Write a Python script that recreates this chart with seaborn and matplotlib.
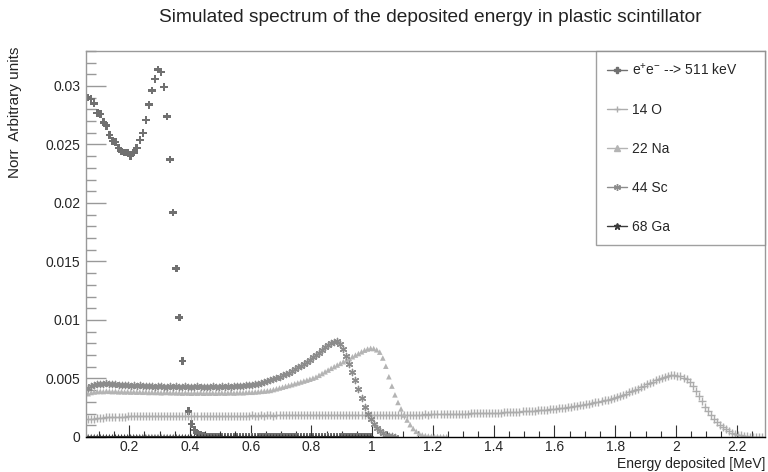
import numpy as np
import pandas as pd
import seaborn as sns
import matplotlib
matplotlib.use('Agg')
import matplotlib.pyplot as plt
from matplotlib.lines import Line2D
from matplotlib.ticker import MultipleLocator, FuncFormatter

# histogram bins: width 0.01 MeV, first bin centre 0.065 MeV
bin_start = 0.065
bin_width = 0.01

# bin contents, in units of 1e-3
ee511 = [29.0, 28.9, 28.5, 27.7, 27.6, 26.9, 26.6, 25.8, 25.3, 25.2,
         24.7, 24.4, 24.3, 24.3, 24.0, 24.3, 24.7, 25.4, 26.0, 27.1,
         28.4, 29.6, 30.6, 31.4, 31.2, 29.9, 27.4, 23.7, 19.2, 14.4,
         10.2, 6.5, np.nan, 2.2, 1.1, 0.6, 0.3, 0.2, 0.1, 0.05,
         0.0, 0.0, 0.0, 0.0, 0.0, 0.0, 0.0, 0.0, 0.0, 0.0,
         0.0, 0.0, 0.0, 0.0, 0.0, 0.0, 0.0, 0.0, 0.0, 0.0,
         0.0, 0.0, 0.0, 0.0, 0.0, 0.0, 0.0, 0.0, 0.0, 0.0,
         0.0, 0.0, 0.0, 0.0, 0.0, 0.0, 0.0, 0.0, 0.0, 0.0,
         0.0, 0.0, 0.0, 0.0, 0.0, 0.0, 0.0, 0.0, 0.0, 0.0,
         0.0, 0.0, 0.0, 0.0]

o14 = [1.50, 1.55, 1.56, 1.60, 1.63, 1.66, 1.68, 1.70, 1.71, 1.72,
       1.73, 1.74, 1.75, 1.76, 1.76, 1.77, 1.77, 1.78, 1.78, 1.79,
       1.78, 1.79, 1.79, 1.80, 1.79, 1.80, 1.80, 1.81, 1.80, 1.81,
       1.81, 1.80, 1.81, 1.82, 1.81, 1.82, 1.81, 1.82, 1.82, 1.81,
       1.82, 1.82, 1.83, 1.82, 1.82, 1.83, 1.82, 1.83, 1.83, 1.82,
       1.83, 1.83, 1.82, 1.83, 1.84, 1.83, 1.83, 1.84, 1.83, 1.84,
       1.84, 1.83, 1.84, 1.84, 1.85, 1.84, 1.84, 1.85, 1.84, 1.85,
       1.85, 1.85, 1.84, 1.85, 1.86, 1.85, 1.85, 1.86, 1.85, 1.86,
       1.86, 1.86, 1.87, 1.86, 1.87, 1.86, 1.87, 1.87, 1.86, 1.87,
       1.87, 1.88, 1.87, 1.88, 1.88, 1.87, 1.88, 1.89, 1.88, 1.89,
       1.89, 1.90, 1.89, 1.90, 1.90, 1.91, 1.90, 1.91, 1.91, 1.92,
       1.92, 1.93, 1.92, 1.93, 1.94, 1.94, 1.95, 1.95, 1.96, 1.96,
       1.97, 1.97, 1.98, 1.99, 1.99, 2.00, 2.01, 2.01, 2.02, 2.03,
       2.04, 2.05, 2.05, 2.06, 2.07, 2.08, 2.09, 2.10, 2.11, 2.12,
       2.13, 2.15, 2.16, 2.18, 2.19, 2.21, 2.23, 2.25, 2.27, 2.29,
       2.31, 2.34, 2.36, 2.39, 2.42, 2.45, 2.48, 2.51, 2.55, 2.58,
       2.62, 2.66, 2.70, 2.75, 2.79, 2.84, 2.89, 2.95, 3.00, 3.06,
       3.13, 3.20, 3.27, 3.35, 3.43, 3.52, 3.61, 3.71, 3.81, 3.92,
       4.03, 4.14, 4.26, 4.38, 4.50, 4.62, 4.74, 4.86, 4.97, 5.07,
       5.15, 5.22, 5.26, 5.27, 5.24, 5.18, 5.08, 4.93, 4.70, 4.35,
       3.95, 3.50, 3.05, 2.60, 2.20, 1.85, 1.52, 1.25, 1.02, 0.83,
       0.67, 0.50, 0.37, 0.27, 0.19, 0.13, 0.09, 0.06, 0.04, 0.03,
       0.02, 0.01, 0.01]

na22 = [3.70, 3.80, 3.85, 3.88, 3.90, 3.88, 3.92, 3.90, 3.88, 3.90,
        3.86, 3.88, 3.85, 3.87, 3.84, 3.86, 3.83, 3.85, 3.82, 3.84,
        3.80, 3.83, 3.80, 3.82, 3.78, 3.80, 3.82, 3.78, 3.80, 3.77,
        3.78, 3.75, 3.78, 3.76, 3.74, 3.77, 3.75, 3.78, 3.74, 3.76,
        3.75, 3.77, 3.74, 3.76, 3.78, 3.75, 3.77, 3.79, 3.76, 3.78,
        3.80, 3.78, 3.81, 3.83, 3.82, 3.85, 3.87, 3.90, 3.92, 3.95,
        3.98, 4.05, 4.12, 4.19, 4.26, 4.33, 4.40, 4.47, 4.55, 4.62,
        4.70, 4.78, 4.86, 4.94, 5.03, 5.12, 5.27, 5.42, 5.57, 5.72,
        5.87, 6.01, 6.15, 6.29, 6.43, 6.57, 6.71, 6.86, 7.00, 7.13,
        7.28, 7.42, 7.52, 7.58, 7.56, 7.45, 7.25, 6.75, 6.05, 5.15,
        4.35, 3.60, 2.95, 2.40, 1.88, 1.45, 1.05, 0.72, 0.48, 0.30,
        0.18, 0.12, 0.08, 0.06, 0.05, 0.04, 0.03, 0.03, 0.02]

sc44 = [4.20, 4.35, 4.45, 4.50, 4.55, 4.50, 4.58, 4.52, 4.50, 4.55,
        4.48, 4.42, 4.45, 4.40, 4.38, 4.42, 4.36, 4.40, 4.35, 4.38,
        4.32, 4.35, 4.30, 4.33, 4.36, 4.30, 4.28, 4.33, 4.30, 4.35,
        4.30, 4.28, 4.32, 4.30, 4.26, 4.30, 4.33, 4.28, 4.30, 4.27,
        4.30, 4.32, 4.28, 4.30, 4.33, 4.30, 4.34, 4.31, 4.35, 4.33,
        4.36, 4.38, 4.40, 4.43, 4.46, 4.50, 4.55, 4.62, 4.70, 4.78,
        4.86, 4.95, 5.05, 5.15, 5.26, 5.38, 5.50, 5.63, 5.78, 5.95,
        6.08, 6.25, 6.42, 6.60, 6.80, 7.00, 7.20, 7.42, 7.65, 7.85,
        8.02, 8.15, 8.18, 7.95, 7.50, 6.90, 6.25, 5.58, 4.85, 4.08,
        3.30, 2.60, 2.00, 1.50, 1.10, 0.78, 0.52, 0.34, 0.20, 0.11,
        0.05, 0.02]

ga68 = [0.0, 0.0, 0.0, 0.0, 0.0, 0.0, 0.0, 0.0, 0.0, 0.0,
        0.0, 0.0, 0.0, 0.0, 0.0, 0.0, 0.0, 0.0, 0.0, 0.0,
        0.0, 0.0, 0.0, 0.0, 0.0, 0.0, 0.0, 0.0, 0.0, 0.0,
        0.0, 0.0, 0.0, 0.0, 0.0, 0.0, 0.0, 0.0, 0.0, 0.0,
        0.0, 0.0, 0.0, 0.0, 0.0, 0.0, 0.0, 0.0, 0.0, 0.0,
        0.0, 0.0, 0.0, 0.0, 0.0, 0.0, 0.0, 0.0, 0.0, 0.0,
        0.0, 0.0, 0.0, 0.0, 0.0, 0.0, 0.0, 0.0, 0.0, 0.0,
        0.0, 0.0, 0.0, 0.0, 0.0, 0.0, 0.0, 0.0, 0.0, 0.0,
        0.0, 0.0, 0.0, 0.0, 0.0, 0.0, 0.0, 0.0, 0.0, 0.0,
        0.0, 0.0, 0.0, 0.0]

labels = [r'$\mathregular{e^{+}e^{-}}$ --> 511 keV', '14 O', '22 Na', '44 Sc', '68 Ga']
series = [ee511, o14, na22, sc44, ga68]
colors = ['#707070', '#adadad', '#b4b4b4', '#8c8c8c', '#3a3a3a']
markers = ['P', '+', '^', (6, 2, 0), '*']
sizes = [30, 30, 16, 20, 22]

sns.set_theme(style='white')
plt.rcParams['font.family'] = ['Liberation Sans', 'DejaVu Sans']
plt.rcParams['mathtext.fontset'] = 'custom'
plt.rcParams['mathtext.rm'] = 'Liberation Sans'

fig = plt.figure(figsize=(7.68, 4.72), dpi=100)
ax = fig.add_axes([0.112, 0.0742, 0.884, 0.818])

for vals, lab, c, m, s in zip(series, labels, colors, markers, sizes):
    vals = np.array(vals, dtype=float) * 1e-3
    df = pd.DataFrame({'energy': bin_start + bin_width * np.arange(len(vals)),
                       'counts': vals})
    if m in ('+', (6, 2, 0)):
        sns.scatterplot(data=df, x='energy', y='counts', ax=ax, marker=m, s=s,
                        color=c, linewidth=1.0, legend=False)
    else:
        sns.scatterplot(data=df, x='energy', y='counts', ax=ax, marker=m, s=s,
                        color=c, edgecolor='none', linewidth=0, legend=False)

ax.set_xlim(0.058, 2.293)
ax.set_ylim(0, 0.033)
ax.set_xlabel('')
ax.set_ylabel('')

fmt = FuncFormatter(lambda v, p: '%g' % round(v, 4))
ax.xaxis.set_major_locator(MultipleLocator(0.2))
ax.xaxis.set_minor_locator(MultipleLocator(0.05))
ax.yaxis.set_major_locator(MultipleLocator(0.005))
ax.yaxis.set_minor_locator(MultipleLocator(0.001))
ax.xaxis.set_major_formatter(fmt)
ax.yaxis.set_major_formatter(fmt)

ax.tick_params(axis='x', which='major', direction='in', length=8.4, width=0.8,
               color='#333333', labelsize=10, pad=2, bottom=True, top=False)
ax.tick_params(axis='x', which='minor', direction='in', length=4.2, width=0.8,
               color='#333333', bottom=True, top=False)
ax.tick_params(axis='y', which='major', direction='in', length=14.6, width=1.0,
               color='#999999', labelsize=10, pad=4, left=True, right=False)
ax.tick_params(axis='y', which='minor', direction='in', length=7.3, width=1.0,
               color='#999999', left=True, right=False)

for side in ['left', 'top', 'right']:
    ax.spines[side].set_color('#999999')
    ax.spines[side].set_linewidth(1.0)
ax.spines['bottom'].set_color('black')
ax.spines['bottom'].set_linewidth(1.0)

handles = [Line2D([0], [0], color=c, marker=m, markersize=5, linewidth=1.0,
                  markeredgewidth=1.0)
           for c, m in zip(colors, markers)]
leg = ax.legend(handles, labels, loc='upper left',
                bbox_to_anchor=(0.751, 1.0, 0.249, 0.0), mode='expand',
                borderaxespad=0.0, frameon=True, fancybox=False, fontsize=10,
                labelspacing=1.8, handlelength=1.45, handletextpad=0.35,
                borderpad=0.8)
leg.get_frame().set_edgecolor('#888888')
leg.get_frame().set_linewidth(1.0)

fig.text(0.56, 0.962, 'Simulated spectrum of the deposited energy in plastic scintillator',
         ha='center', va='center', fontsize=13.8, color='#222222')
fig.text(0.996, 0.003, 'Energy deposited [MeV]', ha='right', va='bottom',
         fontsize=10, color='#222222')
fig.text(0.02, 0.902, 'Norr  Arbitrary units', ha='center', va='top',
         rotation=90, fontsize=11, color='#222222')

fig.savefig('out.png', dpi=100)
